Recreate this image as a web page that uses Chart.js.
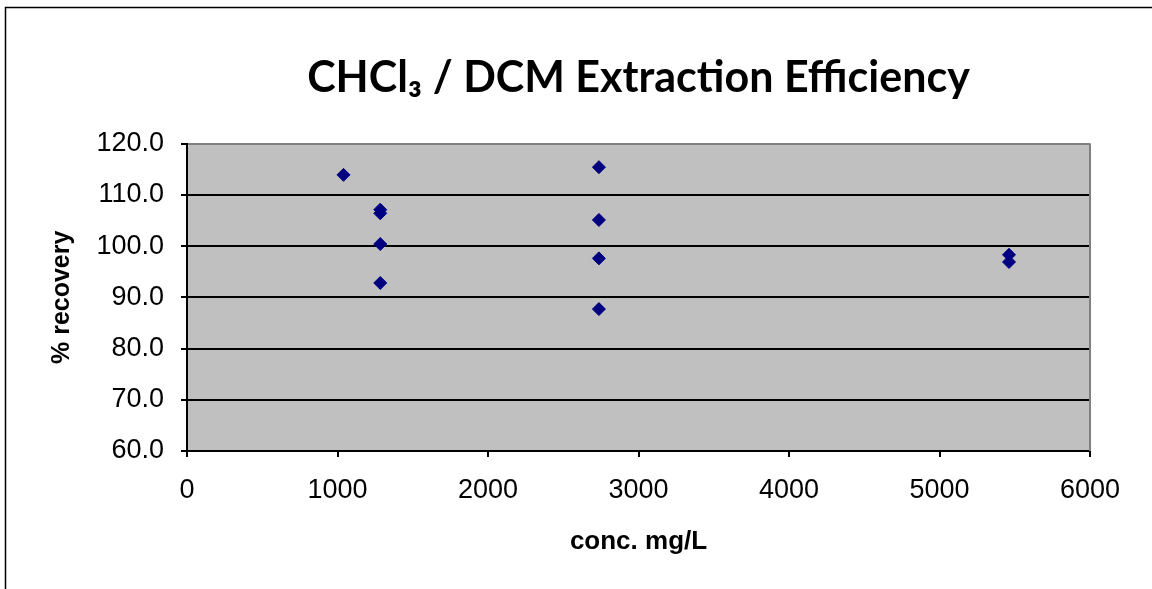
<!DOCTYPE html>
<html>
<head>
<meta charset="utf-8">
<script src="https://cdn.jsdelivr.net/npm/chart.js@4"></script>
<style>
  html, body { margin: 0; padding: 0; background: #fff; }
</style>
</head>
<body>
<canvas id="chart" width="1152" height="589"></canvas>
<script>
// concentration (mg/L) and recovery (%)
const concValues = [1040, 1284, 1284, 1284, 1284, 2737, 2737, 2737, 2737, 5462, 5462];
const recoveryValues = [113.9, 107.1, 106.4, 100.4, 92.8, 115.4, 105.1, 97.6, 87.7, 98.3, 96.9];
const xTicks = [0, 1000, 2000, 3000, 4000, 5000, 6000];
const yTicks = [60, 70, 80, 90, 100, 110, 120];

const points = concValues.map((x, i) => ({ x: x, y: recoveryValues[i] }));

const plotBackground = {
  id: 'plotBackground',
  beforeDraw(chart) {
    const { ctx, chartArea: a } = chart;
    ctx.save();
    ctx.fillStyle = '#C0C0C0';
    ctx.fillRect(a.left, a.top, a.right - a.left, a.bottom - a.top);
    ctx.restore();
  },
  afterDraw(chart) {
    const { ctx, chartArea: a } = chart;
    ctx.save();
    // right edge of the plot
    ctx.strokeStyle = '#808080';
    ctx.lineWidth = 2;
    ctx.beginPath();
    ctx.moveTo(a.right, a.top);
    ctx.lineTo(a.right, a.bottom);
    ctx.stroke();
    // outer frame
    ctx.strokeStyle = '#000';
    ctx.lineWidth = 1.5;
    ctx.strokeRect(5.5, 7.5, chart.width + 20, chart.height + 20);
    ctx.restore();
  }
};

new Chart(document.getElementById('chart'), {
  type: 'scatter',
  data: {
    datasets: [{
      data: points,
      pointStyle: 'rectRot',
      pointRadius: 6.5,
      pointHoverRadius: 6.5,
      borderWidth: 1,
      backgroundColor: '#000080',
      borderColor: '#000080'
    }]
  },
  options: {
    responsive: false,
    animation: false,
    layout: { padding: { left: 40, right: 62, top: 0, bottom: 0 } },
    plugins: {
      legend: { display: false },
      tooltip: { enabled: false },
      title: {
        display: true,
        fullSize: false,
        text: 'CHCl₃ / DCM Extraction Efficiency',
        color: '#000',
        font: { family: 'Lato', size: 43, weight: 'bold' },
        padding: { top: 52, bottom: 40 }
      }
    },
    scales: {
      x: {
        type: 'linear',
        min: 0,
        max: 6000,
        afterBuildTicks: axis => { axis.ticks = xTicks.map(v => ({ value: v })); },
        afterFit: axis => { axis.height = 138; },
        ticks: {
          color: '#000',
          padding: 17,
          font: { family: 'Liberation Sans', size: 27 },
          callback: v => String(v)
        },
        grid: { drawOnChartArea: false, drawTicks: true, tickLength: 6, color: '#000', lineWidth: 2 },
        border: { color: '#000', width: 2 },
        title: {
          display: true,
          text: 'conc. mg/L',
          color: '#000',
          font: { family: 'Liberation Sans', size: 26, weight: 'bold' },
          padding: { top: 0, bottom: 32 }
        }
      },
      y: {
        type: 'linear',
        min: 60,
        max: 120,
        afterBuildTicks: axis => { axis.ticks = yTicks.map(v => ({ value: v })); },
        afterFit: axis => { axis.width = 147; },
        ticks: {
          color: '#000',
          padding: 17,
          font: { family: 'Liberation Sans', size: 27 },
          callback: v => v.toFixed(1)
        },
        grid: {
          drawTicks: true,
          tickLength: 6,
          tickColor: '#000',
          lineWidth: 2,
          color: ctx => (ctx.tick && ctx.tick.value === 120) ? '#808080' : '#000'
        },
        border: { color: '#000', width: 2 },
        title: {
          display: true,
          text: '% recovery',
          color: '#000',
          font: { family: 'Liberation Sans', size: 25, weight: 'bold' },
          padding: { top: 7, bottom: 0 }
        }
      }
    }
  },
  plugins: [plotBackground]
});
</script>
</body>
</html>
